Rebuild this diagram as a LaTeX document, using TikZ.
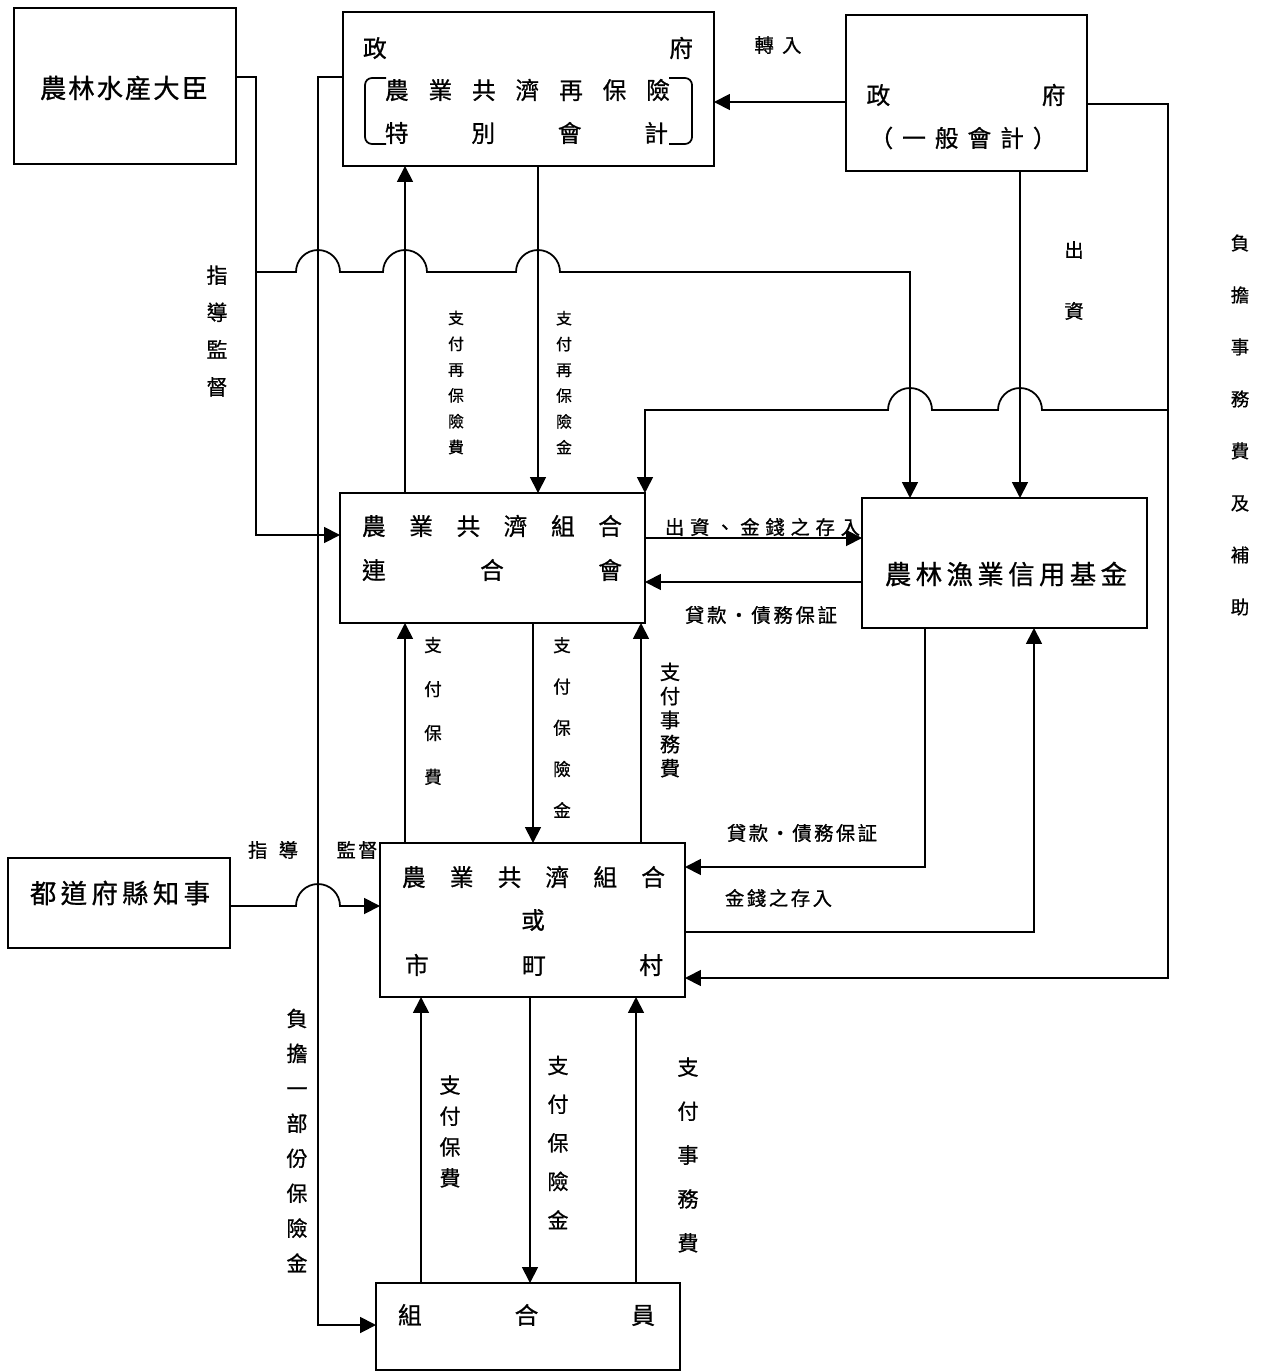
\documentclass[tikz,border=0pt]{standalone}
\usepackage{fontspec}
\newfontfamily\cjk[FakeBold=0.8]{Noto Sans CJK TC}
\usetikzlibrary{arrows.meta}
\newdimen\pxu \pxu=0.02cm
\makeatletter
\newcommand\spr[2]{\hbox to #1{\spr@a#2\relax}}
\def\spr@a#1#2{#1\ifx\relax#2\else\hfill\expandafter\spr@a\expandafter#2\fi}
\makeatother
\newcommand\fz[2]{\cjk\fontsize{#1}{#2}\selectfont}
\begin{document}
\begin{tikzpicture}[x=0.02cm,y=-0.02cm,
  box/.style={draw, line width=1.2pt, inner sep=0pt, outer sep=0pt},
  conn/.style={line width=1pt},
  arr/.style={conn, -{Triangle[length=0.32cm,width=0.32cm]}},
  txt/.style={inner sep=0pt, font=\fz{13.5}{16}},
  txtL/.style={inner sep=0pt, font=\fz{15}{18}},
  lab/.style={inner sep=0pt, font=\fz{11}{13}},
  vlab/.style 2 args={inner sep=0pt, align=center, font={\fz{#1}{#2}}}]
\useasboundingbox (0,0) rectangle (1266,1372);
% boxes
\node[box,minimum width=4.44cm,minimum height=3.12cm] (A) at (125,86) {};
\node[box,minimum width=7.42cm,minimum height=3.08cm] (B) at (528.5,89) {};
\node[box,minimum width=4.82cm,minimum height=3.12cm] (C) at (966.5,93) {};
\node[box,minimum width=6.10cm,minimum height=2.60cm] (D) at (492.5,558) {};
\node[box,minimum width=5.70cm,minimum height=2.60cm] (E) at (1004.5,563) {};
\node[box,minimum width=4.44cm,minimum height=1.80cm] (F) at (119,903) {};
\node[box,minimum width=6.10cm,minimum height=3.08cm] (G) at (532.5,920) {};
\node[box,minimum width=6.08cm,minimum height=1.74cm] (H) at (528,1326.5) {};
% box texts
\node[txtL] (Atxt) at (124,88) {\spr{168\pxu}{農林水産大臣}};
\node[txt] (B0) at (528,48) {\spr{330\pxu}{政府}};
\node[txt] (B1) at (527.5,90) {\spr{285\pxu}{農業共濟再保險}};
\node[txt] (B2) at (526.5,133) {\spr{283\pxu}{特別會計}};
\draw[line width=1pt, rounded corners=0.14cm] (386,78) -- (365,78) -- (365,144) -- (386,144);
\draw[line width=1pt, rounded corners=0.14cm] (669,78) -- (692,78) -- (692,144) -- (669,144);
\node[txt] (C0) at (966,95) {\spr{199\pxu}{政府}};
\node[txt] (C1) at (963,138) {\spr{187\pxu}{（一般會計）}};
\node[txt] (D1) at (492,526) {\spr{260\pxu}{農業共濟組合}};
\node[txt] (D2) at (492,570) {\spr{260\pxu}{連合會}};
\node[txtL] (Etxt) at (1006,574) {\spr{242\pxu}{農林漁業信用基金}};
\node[txtL] (Ftxt) at (120,893) {\spr{180\pxu}{都道府縣知事}};
\node[txt] (G1) at (533.5,877) {\spr{263\pxu}{農業共濟組合}};
\node[txt] (G2) at (533,920) {或};
\node[txt] (G3) at (534,965) {\spr{258\pxu}{市町村}};
\node[txt] (H1) at (526.5,1315) {\spr{257\pxu}{組合員}};
% labels
\node[vlab={12}{21.2}] (L1) at (217,331) {指\\導\\監\\督};
\node[vlab={9}{14.7}] (L2) at (456,382.5) {支\\付\\再\\保\\險\\費};
\node[vlab={9}{14.7}] (L3) at (564,382.5) {支\\付\\再\\保\\險\\金};
\node[lab] (L4) at (778,45) {\spr{47\pxu}{轉入}};
\node[vlab={11}{34.7}] (L5) at (1074,280.5) {出\\資};
\node[vlab={10.5}{29.6}] (L6) at (1240,425) {負\\擔\\事\\務\\費\\及\\補\\助};
\node[lab] (L7) at (762.5,527) {\spr{195\pxu}{出資、金錢之存入}};
\node[lab] (L8) at (761,615) {\spr{152\pxu}{貸款・債務保証}};
\node[vlab={10}{25}] (L9) at (433,711) {支\\付\\保\\費};
\node[vlab={10}{23.5}] (L10) at (562,727.5) {支\\付\\保\\險\\金};
\node[vlab={11.5}{13.7}] (L11) at (670,720) {支\\付\\事\\務\\費};
\node[lab] (L12) at (802,833) {\spr{150\pxu}{貸款・債務保証}};
\node[lab] (L13) at (778.5,898) {\spr{107\pxu}{金錢之存入}};
\node[lab] (L14) at (273,850) {\spr{50\pxu}{指導}};
\node[lab] (L15) at (357,850) {\spr{41\pxu}{監督}};
\node[vlab={12}{19.9}] (L16) at (297,1140.5) {負\\擔\\一\\部\\份\\保\\險\\金};
\node[vlab={12}{17.6}] (L17) at (450,1131.5) {支\\付\\保\\費};
\node[vlab={12}{22}] (L18) at (558,1142.5) {支\\付\\保\\險\\金};
\node[vlab={12}{25}] (L19) at (688,1155) {支\\付\\事\\務\\費};
% coordinates
\coordinate (m1) at (256,77);
\coordinate (m2) at (256,535);
\coordinate (m3) at (256,272);
\coordinate (m4) at (910,272);
\coordinate (g1) at (318,77);
\coordinate (g2) at (318,1325);
\coordinate (v405) at (405,0);
\coordinate (v538) at (538,0);
\coordinate (h102) at (0,102);
\coordinate (v1020) at (1020,0);
\coordinate (r1) at (1168,104);
\coordinate (r2) at (1168,978);
\coordinate (r3) at (1168,410);
\coordinate (r4) at (645,410);
\coordinate (h538) at (0,538);
\coordinate (h582) at (0,582);
\coordinate (v533) at (533,0);
\coordinate (v641) at (641,0);
\coordinate (e1) at (925,867);
\coordinate (e2) at (1034,932);
\coordinate (v421) at (421,0);
\coordinate (v530) at (530,0);
\coordinate (v636) at (636,0);
\coordinate (h906) at (0,906);
% connectors
\draw[arr] (A.east |- m1) -- (m1) -- (m2) -- (D.west |- m2);
\draw[arr] (m3) -- (296,272) arc[start angle=180,end angle=0,radius=0.44cm]
  -- (383,272) arc[start angle=180,end angle=0,radius=0.44cm]
  -- (516,272) arc[start angle=180,end angle=0,radius=0.44cm]
  -- (m4) -- (E.north -| m4);
\draw[arr] (B.west |- g1) -- (g1) -- (g2) -- (H.west |- g2);
\draw[arr] (D.north -| v405) -- (B.south -| v405);
\draw[arr] (B.south -| v538) -- (D.north -| v538);
\draw[arr] (C.west |- h102) -- (B.east |- h102);
\draw[arr] (C.south -| v1020) -- (E.north -| v1020);
\draw[arr] (C.east |- r1) -- (r1) -- (r2) -- (G.east |- r2);
\draw[arr] (r3) -- (1042,410) arc[start angle=0,end angle=180,radius=0.44cm]
  -- (932,410) arc[start angle=0,end angle=180,radius=0.44cm]
  -- (r4) -- (D.north east);
\draw[arr] (D.east |- h538) -- (E.west |- h538);
\draw[arr] (E.west |- h582) -- (D.east |- h582);
\draw[arr] (D.south -| v533) -- (G.north -| v533);
\draw[arr] (G.north -| v405) -- (D.south -| v405);
\draw[arr] (G.north -| v641) -- (D.south -| v641);
\draw[arr] (E.south -| e1) -- (e1) -- (G.east |- e1);
\draw[arr] (G.east |- e2) -- (e2) -- (E.south -| e2);
\draw[arr] (H.north -| v421) -- (G.south -| v421);
\draw[arr] (G.south -| v530) -- (H.north -| v530);
\draw[arr] (H.north -| v636) -- (G.south -| v636);
\draw[arr] (F.east |- h906) -- (296,906) arc[start angle=180,end angle=0,radius=0.44cm] -- (G.west |- h906);
\end{tikzpicture}
\end{document}
